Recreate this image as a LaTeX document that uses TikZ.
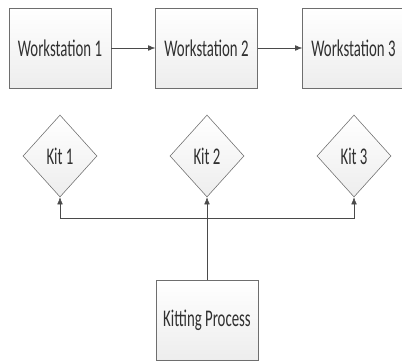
\documentclass[tikz,border=0pt]{standalone}
\usepackage{fontspec}
\setmainfont[FakeStretch=0.62]{Carlito}
\usetikzlibrary{shapes.geometric,arrows.meta,shadows}
\definecolor{edgegray}{HTML}{6E6E6E}
\definecolor{linegray}{HTML}{4A4A4A}
\definecolor{textgray}{HTML}{303030}
\tikzset{
  stationbox/.style={draw=edgegray, top color=white, bottom color=gray!14,
    minimum width=2.55cm, minimum height=2cm, inner sep=0pt,
    drop shadow={shadow xshift=0.6pt, shadow yshift=-0.8pt, opacity=0.35},
    font=\fontsize{17}{20}\selectfont, text=textgray},
  kitbox/.style={diamond, draw=edgegray, top color=white, bottom color=gray!14,
    minimum width=1.85cm, minimum height=2.05cm, inner sep=0pt,
    font=\fontsize{17}{20}\selectfont, text=textgray},
  flow/.style={draw=linegray, -{Latex[length=5pt,width=4pt]}}
}
\begin{document}
\begin{tikzpicture}
\useasboundingbox (0,0) rectangle (10.05,9.05);

% workstations
\node[stationbox] (ws1) at (1.5,7.85) {Workstation 1};
\node[stationbox] (ws2) at (5.1625,7.85) {Workstation 2};
\node[stationbox] (ws3) at (8.8375,7.85) {Workstation 3};

% kits
\node[kitbox] (kit1) at (1.5,5.15) {Kit 1};
\node[kitbox] (kit2) at (5.175,5.15) {Kit 2};
\node[kitbox] (kit3) at (8.85,5.15) {Kit 3};

% kitting process
\node[stationbox] (kp) at (5.175,1.05) {Kitting Process};

% flow between workstations
\draw[flow] (ws1) -- (ws2);
\draw[flow] (ws2) -- (ws3);

% kit supply lines
\coordinate (bus) at (5.175,3.6);
\draw[flow] (kp) -- (kit2);
\draw[flow] (bus) -| (kit1);
\draw[flow] (bus) -| (kit3);

\end{tikzpicture}
\end{document}
